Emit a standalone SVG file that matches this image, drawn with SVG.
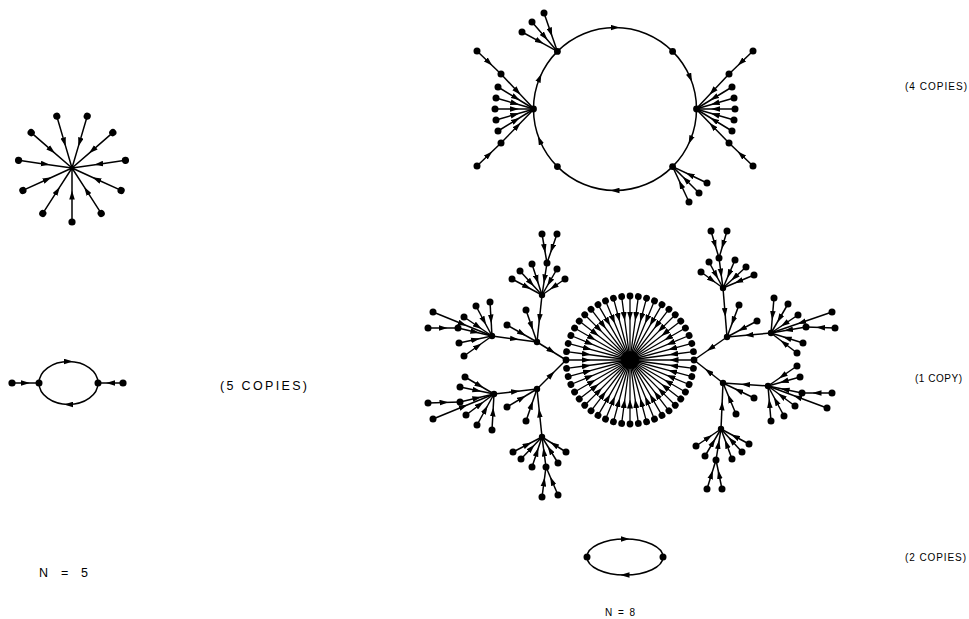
<svg xmlns="http://www.w3.org/2000/svg" xmlns:xlink="http://www.w3.org/1999/xlink" width="969" height="619" viewBox="0 0 969 619">
<style>
.e{fill:none;stroke:#000;stroke-width:1.5;marker-mid:url(#a)}
.s{fill:none;stroke:#000;stroke-width:1.3;marker-mid:url(#b)}
circle{fill:#000}
text{font-family:"Liberation Sans","DejaVu Sans",Arial,sans-serif;fill:#000}
.big{font-size:12.5px}
.sm{font-size:10px}
</style>
<defs>
<marker id="a" viewBox="-4.5 -3 9 6" markerWidth="9" markerHeight="6" refX="0" refY="0" orient="auto" markerUnits="userSpaceOnUse"><path d="M-4.5,-2.8 L4.5,0 L-4.5,2.8 z" fill="#000"/></marker>
<marker id="b" viewBox="-4.5 -3 9 6" markerWidth="9" markerHeight="6" refX="0" refY="0" orient="auto" markerUnits="userSpaceOnUse"><path d="M-4.5,-3 L4.5,0 L-4.5,3 z" fill="#000"/></marker>
<g id="sp11"><path class="e" d="M54,0 L27,0 L0,0"/><circle cx="54" cy="0" r="3.6"/></g>
<g id="sp48"><path class="s" d="M64,0 L44,0 L0,0"/><circle cx="64" cy="0" r="3.4"/></g>
</defs>
<rect width="969" height="619" fill="#fff"/>

<!-- N = 5 star -->
<g id="n5-star" transform="translate(72,168)">
<use href="#sp11" transform="rotate(90)"/>
<use href="#sp11" transform="rotate(122.73)"/>
<use href="#sp11" transform="rotate(155.45)"/>
<use href="#sp11" transform="rotate(188.18)"/>
<use href="#sp11" transform="rotate(220.91)"/>
<use href="#sp11" transform="rotate(253.64)"/>
<use href="#sp11" transform="rotate(286.36)"/>
<use href="#sp11" transform="rotate(319.09)"/>
<use href="#sp11" transform="rotate(351.82)"/>
<use href="#sp11" transform="rotate(24.55)"/>
<use href="#sp11" transform="rotate(57.27)"/>
<circle cx="0" cy="0" r="2.4"/>
</g>

<!-- N = 5 two-cycle -->
<g id="n5-cycle">
<g id="connectors-n5">
<path class="e" d="M39,383 A29.5,21.5 0 0 1 68.5,361.5 A29.5,21.5 0 0 1 98,383"/>
<path class="e" d="M98,383 A29.5,21.5 0 0 1 68.5,404.5 A29.5,21.5 0 0 1 39,383"/>
<path class="e" d="M12,383 L25.5,383 L39,383"/>
<path class="e" d="M123,383 L110.5,383 L98,383"/>
</g>
<g id="n5c-a"><circle cx="39" cy="383" r="3.5"/></g>
<g id="n5c-b"><circle cx="98" cy="383" r="3.5"/></g>
<g id="n5c-c"><circle cx="12" cy="383" r="3.6"/></g>
<g id="n5c-d"><circle cx="123" cy="383" r="3.6"/></g>
</g>

<!-- N = 8 top figure (cycle of 6) -->
<g id="n8-cycle6">
<g id="connectors-top">
<path class="e" d="M533.5,109 A81.5,81.5 0 0 1 539.7,77.8 A81.5,81.5 0 0 1 557.4,51.4"/>
<path class="e" d="M557.4,51.4 A81.5,81.5 0 0 1 615,27.5 A81.5,81.5 0 0 1 672.6,51.4"/>
<path class="e" d="M672.6,51.4 A81.5,81.5 0 0 1 690.3,77.8 A81.5,81.5 0 0 1 696.5,109"/>
<path class="e" d="M696.5,109 A81.5,81.5 0 0 1 690.3,140.2 A81.5,81.5 0 0 1 672.6,166.6"/>
<path class="e" d="M672.6,166.6 A81.5,81.5 0 0 1 615,190.5 A81.5,81.5 0 0 1 557.4,166.6"/>
<path class="e" d="M557.4,166.6 A81.5,81.5 0 0 1 539.7,140.2 A81.5,81.5 0 0 1 533.5,109"/>
<path class="e" d="M544,13 L550.7,32.2 L557.4,51.4"/>
<path class="e" d="M532,22 L544.7,36.7 L557.4,51.4"/>
<path class="e" d="M522,32 L539.7,41.7 L557.4,51.4"/>
<path class="e" d="M477,51 L489,62.5 L501,74"/>
<path class="e" d="M501,74 L517.5,91.5 L534,109"/>
<path class="e" d="M498,87 L516,98 L534,109"/>
<path class="e" d="M496,98 L515,103.5 L534,109"/>
<path class="e" d="M495,109 L514.5,109 L534,109"/>
<path class="e" d="M496,120 L515,114.5 L534,109"/>
<path class="e" d="M498,131 L516,120 L534,109"/>
<path class="e" d="M501,143 L517.5,126 L534,109"/>
<path class="e" d="M477,166 L489,154.5 L501,143"/>
<path class="e" d="M753,51 L741,62.5 L729,74"/>
<path class="e" d="M729,74 L712.5,91.5 L696,109"/>
<path class="e" d="M732,87 L714,98 L696,109"/>
<path class="e" d="M734,98 L715,103.5 L696,109"/>
<path class="e" d="M735,109 L715.5,109 L696,109"/>
<path class="e" d="M734,120 L715,114.5 L696,109"/>
<path class="e" d="M732,131 L714,120 L696,109"/>
<path class="e" d="M729,143 L712.5,126 L696,109"/>
<path class="e" d="M753,166 L741,154.5 L729,143"/>
<path class="e" d="M707,183 L689.8,174.8 L672.6,166.6"/>
<path class="e" d="M699,193 L685.8,179.8 L672.6,166.6"/>
<path class="e" d="M689,202 L680.8,184.3 L672.6,166.6"/>
</g>
<g id="t-cycle-nodes">
<circle cx="533.5" cy="109" r="3.4"/><circle cx="557.4" cy="51.4" r="3.4"/><circle cx="672.6" cy="51.4" r="3.4"/>
<circle cx="696.5" cy="109" r="3.4"/><circle cx="672.6" cy="166.6" r="3.4"/><circle cx="557.4" cy="166.6" r="3.4"/>
</g>
<g id="t-leaves">
<circle cx="544" cy="13" r="3.5"/><circle cx="532" cy="22" r="3.5"/><circle cx="522" cy="32" r="3.5"/>
<circle cx="477" cy="51" r="3.5"/><circle cx="501" cy="74" r="3.5"/><circle cx="498" cy="87" r="3.5"/><circle cx="496" cy="98" r="3.5"/><circle cx="495" cy="109" r="3.5"/><circle cx="496" cy="120" r="3.5"/><circle cx="498" cy="131" r="3.5"/><circle cx="501" cy="143" r="3.5"/><circle cx="477" cy="166" r="3.5"/>
<circle cx="753" cy="51" r="3.5"/><circle cx="729" cy="74" r="3.5"/><circle cx="732" cy="87" r="3.5"/><circle cx="734" cy="98" r="3.5"/><circle cx="735" cy="109" r="3.5"/><circle cx="734" cy="120" r="3.5"/><circle cx="732" cy="131" r="3.5"/><circle cx="729" cy="143" r="3.5"/><circle cx="753" cy="166" r="3.5"/>
<circle cx="707" cy="183" r="3.5"/><circle cx="699" cy="193" r="3.5"/><circle cx="689" cy="202" r="3.5"/>
</g>
</g>

<!-- N = 8 central figure -->
<g id="n8-central">
<g id="central-star" transform="translate(630,360)">
<use href="#sp48" transform="rotate(0)"/><use href="#sp48" transform="rotate(7.5)"/><use href="#sp48" transform="rotate(15)"/><use href="#sp48" transform="rotate(22.5)"/>
<use href="#sp48" transform="rotate(30)"/><use href="#sp48" transform="rotate(37.5)"/><use href="#sp48" transform="rotate(45)"/><use href="#sp48" transform="rotate(52.5)"/>
<use href="#sp48" transform="rotate(60)"/><use href="#sp48" transform="rotate(67.5)"/><use href="#sp48" transform="rotate(75)"/><use href="#sp48" transform="rotate(82.5)"/>
<use href="#sp48" transform="rotate(90)"/><use href="#sp48" transform="rotate(97.5)"/><use href="#sp48" transform="rotate(105)"/><use href="#sp48" transform="rotate(112.5)"/>
<use href="#sp48" transform="rotate(120)"/><use href="#sp48" transform="rotate(127.5)"/><use href="#sp48" transform="rotate(135)"/><use href="#sp48" transform="rotate(142.5)"/>
<use href="#sp48" transform="rotate(150)"/><use href="#sp48" transform="rotate(157.5)"/><use href="#sp48" transform="rotate(165)"/><use href="#sp48" transform="rotate(172.5)"/>
<use href="#sp48" transform="rotate(180)"/><use href="#sp48" transform="rotate(187.5)"/><use href="#sp48" transform="rotate(195)"/><use href="#sp48" transform="rotate(202.5)"/>
<use href="#sp48" transform="rotate(210)"/><use href="#sp48" transform="rotate(217.5)"/><use href="#sp48" transform="rotate(225)"/><use href="#sp48" transform="rotate(232.5)"/>
<use href="#sp48" transform="rotate(240)"/><use href="#sp48" transform="rotate(247.5)"/><use href="#sp48" transform="rotate(255)"/><use href="#sp48" transform="rotate(262.5)"/>
<use href="#sp48" transform="rotate(270)"/><use href="#sp48" transform="rotate(277.5)"/><use href="#sp48" transform="rotate(285)"/><use href="#sp48" transform="rotate(292.5)"/>
<use href="#sp48" transform="rotate(300)"/><use href="#sp48" transform="rotate(307.5)"/><use href="#sp48" transform="rotate(315)"/><use href="#sp48" transform="rotate(322.5)"/>
<use href="#sp48" transform="rotate(330)"/><use href="#sp48" transform="rotate(337.5)"/><use href="#sp48" transform="rotate(345)"/><use href="#sp48" transform="rotate(352.5)"/>
<circle cx="0" cy="0" r="9"/>
</g>
<g id="connectors-central">
<path class="e" d="M537,342 L551.5,351 L566,360"/>
<path class="e" d="M537,389 L551.5,374.5 L566,360"/>
<path class="e" d="M727,337 L710.5,348.5 L694,360"/>
<path class="e" d="M723,383 L708.5,371.5 L694,360"/>
<path class="e" d="M492,336 L514.5,339 L537,342"/>
<path class="e" d="M542,295 L539.5,318.5 L537,342"/>
<path class="e" d="M507,325 L522,333.5 L537,342"/>
<path class="e" d="M526,310 L531.5,326 L537,342"/>
<path class="e" d="M458,328 L475,332 L492,336"/>
<path class="e" d="M428,328 L443,328 L458,328"/>
<path class="e" d="M433,312 L462.5,324 L492,336"/>
<path class="e" d="M464,317 L478,326.5 L492,336"/>
<path class="e" d="M476,306 L484,321 L492,336"/>
<path class="e" d="M490,302 L491,319 L492,336"/>
<path class="e" d="M459,343 L475.5,339.5 L492,336"/>
<path class="e" d="M464,356 L478,346 L492,336"/>
<path class="e" d="M512,279 L527,287 L542,295"/>
<path class="e" d="M520,271 L531,283 L542,295"/>
<path class="e" d="M532,264 L537,279.5 L542,295"/>
<path class="e" d="M547,263 L544.5,279 L542,295"/>
<path class="e" d="M542,234 L544.5,248.5 L547,263"/>
<path class="e" d="M557,234 L552,248.5 L547,263"/>
<path class="e" d="M557,269 L549.5,282 L542,295"/>
<path class="e" d="M565,279 L553.5,287 L542,295"/>
<path class="e" d="M494,394 L515.5,391.5 L537,389"/>
<path class="e" d="M542,437 L539.5,413 L537,389"/>
<path class="e" d="M507,407 L522,398 L537,389"/>
<path class="e" d="M526,421 L531.5,405 L537,389"/>
<path class="e" d="M465,377 L479.5,385.5 L494,394"/>
<path class="e" d="M460,387 L477,390.5 L494,394"/>
<path class="e" d="M460,402 L477,398 L494,394"/>
<path class="e" d="M428,403 L444,402.5 L460,402"/>
<path class="e" d="M433,419 L463.5,406.5 L494,394"/>
<path class="e" d="M466,415 L480,404.5 L494,394"/>
<path class="e" d="M477,425 L485.5,409.5 L494,394"/>
<path class="e" d="M492,430 L493,412 L494,394"/>
<path class="e" d="M513,452 L527.5,444.5 L542,437"/>
<path class="e" d="M521,459 L531.5,448 L542,437"/>
<path class="e" d="M532,467 L537,452 L542,437"/>
<path class="e" d="M546,467 L544,452 L542,437"/>
<path class="e" d="M542,497 L544,482 L546,467"/>
<path class="e" d="M558,495 L552,481 L546,467"/>
<path class="e" d="M558,463 L550,450 L542,437"/>
<path class="e" d="M566,452 L554,444.5 L542,437"/>
<path class="e" d="M723,288 L725,312.5 L727,337"/>
<path class="e" d="M771,333 L749,335 L727,337"/>
<path class="e" d="M739,305 L733,321 L727,337"/>
<path class="e" d="M757,321 L742,329 L727,337"/>
<path class="e" d="M701,272 L712,280 L723,288"/>
<path class="e" d="M709,262 L716,275 L723,288"/>
<path class="e" d="M719,258 L721,273 L723,288"/>
<path class="e" d="M711,231 L715,244.5 L719,258"/>
<path class="e" d="M727,231 L723,244.5 L719,258"/>
<path class="e" d="M735,260 L729,274 L723,288"/>
<path class="e" d="M746,267 L734.5,277.5 L723,288"/>
<path class="e" d="M754,275 L738.5,281.5 L723,288"/>
<path class="e" d="M774,298 L772.5,315.5 L771,333"/>
<path class="e" d="M788,304 L779.5,318.5 L771,333"/>
<path class="e" d="M798,315 L784.5,324 L771,333"/>
<path class="e" d="M806,327 L788.5,330 L771,333"/>
<path class="e" d="M835,328 L820.5,327.5 L806,327"/>
<path class="e" d="M832,312 L801.5,322.5 L771,333"/>
<path class="e" d="M803,343 L787,338 L771,333"/>
<path class="e" d="M797,353 L784,343 L771,333"/>
<path class="e" d="M768,386 L745.5,384.5 L723,383"/>
<path class="e" d="M721,429 L722,406 L723,383"/>
<path class="e" d="M754,398 L738.5,390.5 L723,383"/>
<path class="e" d="M736,414 L729.5,398.5 L723,383"/>
<path class="e" d="M797,366 L782.5,376 L768,386"/>
<path class="e" d="M800,377 L784,381.5 L768,386"/>
<path class="e" d="M802,393 L785,389.5 L768,386"/>
<path class="e" d="M832,393 L817,393 L802,393"/>
<path class="e" d="M827,408 L797.5,397 L768,386"/>
<path class="e" d="M795,406 L781.5,396 L768,386"/>
<path class="e" d="M784,416 L776,401 L768,386"/>
<path class="e" d="M771,421 L769.5,403.5 L768,386"/>
<path class="e" d="M696,446 L708.5,437.5 L721,429"/>
<path class="e" d="M705,456 L713,442.5 L721,429"/>
<path class="e" d="M716,460 L718.5,444.5 L721,429"/>
<path class="e" d="M707,489 L711.5,474.5 L716,460"/>
<path class="e" d="M722,489 L719,474.5 L716,460"/>
<path class="e" d="M732,459 L726.5,444 L721,429"/>
<path class="e" d="M742,452 L731.5,440.5 L721,429"/>
<path class="e" d="M749,444 L735,436.5 L721,429"/>
</g>
<g id="ul-tree-nodes">
<circle cx="537" cy="342" r="3.2"/><circle cx="492" cy="336" r="3.2"/><circle cx="542" cy="295" r="3.2"/>
<circle cx="507" cy="325" r="3.5"/><circle cx="526" cy="310" r="3.5"/>
<circle cx="458" cy="328" r="3.5"/><circle cx="428" cy="328" r="3.5"/><circle cx="433" cy="312" r="3.5"/><circle cx="464" cy="317" r="3.5"/><circle cx="476" cy="306" r="3.5"/><circle cx="490" cy="302" r="3.5"/><circle cx="459" cy="343" r="3.5"/><circle cx="464" cy="356" r="3.5"/>
<circle cx="512" cy="279" r="3.5"/><circle cx="520" cy="271" r="3.5"/><circle cx="532" cy="264" r="3.5"/><circle cx="547" cy="263" r="3.5"/><circle cx="542" cy="234" r="3.5"/><circle cx="557" cy="234" r="3.5"/><circle cx="557" cy="269" r="3.5"/><circle cx="565" cy="279" r="3.5"/>
</g>
<g id="ll-tree-nodes">
<circle cx="537" cy="389" r="3.2"/><circle cx="494" cy="394" r="3.2"/><circle cx="542" cy="437" r="3.2"/>
<circle cx="507" cy="407" r="3.5"/><circle cx="526" cy="421" r="3.5"/>
<circle cx="465" cy="377" r="3.5"/><circle cx="460" cy="387" r="3.5"/><circle cx="460" cy="402" r="3.5"/><circle cx="428" cy="403" r="3.5"/><circle cx="433" cy="419" r="3.5"/><circle cx="466" cy="415" r="3.5"/><circle cx="477" cy="425" r="3.5"/><circle cx="492" cy="430" r="3.5"/>
<circle cx="513" cy="452" r="3.5"/><circle cx="521" cy="459" r="3.5"/><circle cx="532" cy="467" r="3.5"/><circle cx="546" cy="467" r="3.5"/><circle cx="542" cy="497" r="3.5"/><circle cx="558" cy="495" r="3.5"/><circle cx="558" cy="463" r="3.5"/><circle cx="566" cy="452" r="3.5"/>
</g>
<g id="ur-tree-nodes">
<circle cx="727" cy="337" r="3.2"/><circle cx="723" cy="288" r="3.2"/><circle cx="771" cy="333" r="3.2"/>
<circle cx="739" cy="305" r="3.5"/><circle cx="757" cy="321" r="3.5"/>
<circle cx="701" cy="272" r="3.5"/><circle cx="709" cy="262" r="3.5"/><circle cx="719" cy="258" r="3.5"/><circle cx="711" cy="231" r="3.5"/><circle cx="727" cy="231" r="3.5"/><circle cx="735" cy="260" r="3.5"/><circle cx="746" cy="267" r="3.5"/><circle cx="754" cy="275" r="3.5"/>
<circle cx="774" cy="298" r="3.5"/><circle cx="788" cy="304" r="3.5"/><circle cx="798" cy="315" r="3.5"/><circle cx="806" cy="327" r="3.5"/><circle cx="835" cy="328" r="3.5"/><circle cx="832" cy="312" r="3.5"/><circle cx="803" cy="343" r="3.5"/><circle cx="797" cy="353" r="3.5"/>
</g>
<g id="lr-tree-nodes">
<circle cx="723" cy="383" r="3.2"/><circle cx="768" cy="386" r="3.2"/><circle cx="721" cy="429" r="3.2"/>
<circle cx="754" cy="398" r="3.5"/><circle cx="736" cy="414" r="3.5"/>
<circle cx="797" cy="366" r="3.5"/><circle cx="800" cy="377" r="3.5"/><circle cx="802" cy="393" r="3.5"/><circle cx="832" cy="393" r="3.5"/><circle cx="827" cy="408" r="3.5"/><circle cx="795" cy="406" r="3.5"/><circle cx="784" cy="416" r="3.5"/><circle cx="771" cy="421" r="3.5"/>
<circle cx="696" cy="446" r="3.5"/><circle cx="705" cy="456" r="3.5"/><circle cx="716" cy="460" r="3.5"/><circle cx="707" cy="489" r="3.5"/><circle cx="722" cy="489" r="3.5"/><circle cx="732" cy="459" r="3.5"/><circle cx="742" cy="452" r="3.5"/><circle cx="749" cy="444" r="3.5"/>
</g>
</g>

<!-- N = 8 two-cycle -->
<g id="n8-cycle2">
<g id="connectors-n8c2">
<path class="e" d="M587,557 A38,18 0 0 1 625,539 A38,18 0 0 1 663,557"/>
<path class="e" d="M663,557 A38,18 0 0 1 625,575 A38,18 0 0 1 587,557"/>
</g>
<g id="n8c2-a"><circle cx="587" cy="557" r="3.5"/></g>
<g id="n8c2-b"><circle cx="663" cy="557" r="3.5"/></g>
</g>

<g id="labels">
<text class="big" x="220" y="389.5" textLength="87" lengthAdjust="spacing">(5 COPIES)</text>
<text class="big" x="39" y="577" textLength="49" lengthAdjust="spacing">N = 5</text>
<text class="sm" x="905" y="90" textLength="62" lengthAdjust="spacing">(4 COPIES)</text>
<text class="sm" x="915" y="382" textLength="47" lengthAdjust="spacing">(1 COPY)</text>
<text class="sm" x="905" y="561" textLength="61" lengthAdjust="spacing">(2 COPIES)</text>
<text class="sm" x="605" y="616" textLength="30" lengthAdjust="spacing">N = 8</text>
</g>
</svg>
